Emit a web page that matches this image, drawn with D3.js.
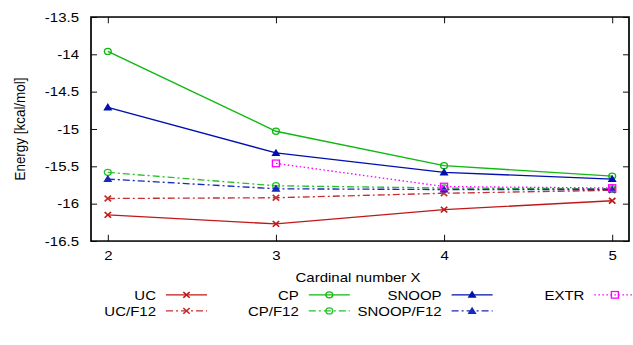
<!DOCTYPE html>
<html>
  <head>
    <meta charset="utf-8">
    <script src="https://d3js.org/d3.v7.min.js"></script>
    <title>Energy vs cardinal number</title>
    <style>
      body { margin: 0; background: #fff; overflow: hidden; }
      svg { display: block; }
      text { font-family: "Liberation Sans", Arial, sans-serif; font-size: 15px; fill: #000; }
    </style>
  </head>
  <body>
    <!-- drawn on a 633x385 canvas and squeezed to 345 px high, like the reference -->
    <svg width="633" height="345" viewBox="0 0 633 385" preserveAspectRatio="none" id="chart"></svg>
    <script>
      // cardinal numbers on the x axis
      var cardinal = [2, 3, 4, 5];
      var yTicks = [-13.5, -14, -14.5, -15, -15.5, -16, -16.5];

      // energies in kcal/mol
      var uc       = [-16.15, -16.27, -16.08, -15.96];
      var ucF12    = [-15.93, -15.92, -15.86, -15.82];
      var cp       = [-13.96, -15.03, -15.49, -15.63];
      var cpF12    = [-15.58, -15.76, -15.79, -15.80];
      var snoop    = [-14.71, -15.32, -15.58, -15.67];
      var snoopF12 = [-15.67, -15.80, -15.81, -15.81];
      var extrX    = [3, 4, 5];
      var extr     = [-15.46, -15.77, -15.79];

      var series = [
        { name: "UC", xs: cardinal, ys: uc, color: "#c01818", dash: null, mark: "x", col: 0, row: 0 },
        { name: "UC/F12", xs: cardinal, ys: ucF12, color: "#c83030", dash: "7,3,2,3", mark: "x", col: 0, row: 1 },
        { name: "CP", xs: cardinal, ys: cp, color: "#10b810", dash: null, mark: "circle", col: 1, row: 0 },
        { name: "CP/F12", xs: cardinal, ys: cpF12, color: "#28c028", dash: "7,3,2,3", mark: "circle", col: 1, row: 1 },
        { name: "SNOOP", xs: cardinal, ys: snoop, color: "#0010b0", dash: null, mark: "tri", col: 2, row: 0 },
        { name: "SNOOP/F12", xs: cardinal, ys: snoopF12, color: "#1828b8", dash: "7,3,2,3", mark: "tri", col: 2, row: 1 },
        { name: "EXTR", xs: extrX, ys: extr, color: "#ff00ff", dash: "1.5,2.5", mark: "square", col: 3, row: 0 }
      ];

      var svg = d3.select("#chart"),
          margin = { top: 19, right: 4, bottom: 116, left: 91 },
          width = 633 - margin.left - margin.right,
          height = 385 - margin.top - margin.bottom;

      var x = d3.scaleLinear().domain([1.9, 5.1]).range([0, width]),
          y = d3.scaleLinear().domain([-16.5, -13.5]).range([height, 0]);

      var g = svg.append("g")
          .attr("transform", "translate(" + margin.left + "," + margin.top + ")");

      // axes with inward ticks, mirrored on top and right
      g.append("g")
          .attr("transform", "translate(0," + height + ")")
          .call(d3.axisBottom(x).tickValues(cardinal).tickSize(-7).tickPadding(11).tickFormat(d3.format("d")));
      g.append("g")
          .call(d3.axisTop(x).tickValues(cardinal).tickSize(-7).tickFormat(""));
      g.append("g")
          .call(d3.axisLeft(y).tickValues(yTicks).tickSize(-6).tickPadding(12).tickFormat(function (d) { return d; }));
      g.append("g")
          .attr("transform", "translate(" + width + ",0)")
          .call(d3.axisRight(y).tickValues(yTicks).tickSize(-6).tickFormat(""));
      g.selectAll(".domain").remove();
      g.selectAll(".tick line").attr("stroke", "#000").attr("stroke-width", 1);
      g.selectAll(".tick text").style("font-size", "15px").style("font-family", "Liberation Sans, Arial, sans-serif");

      g.append("rect")
          .attr("width", width).attr("height", height)
          .attr("fill", "none").attr("stroke", "#000").attr("stroke-width", 1.7);

      svg.append("text")
          .attr("transform", "translate(20," + (margin.top + height / 2) + ") rotate(-90)")
          .attr("text-anchor", "middle")
          .attr("dy", "0.35em")
          .text("Energy [kcal/mol]");

      svg.append("text")
          .attr("x", margin.left + width / 2 - 2)
          .attr("y", 309)
          .attr("text-anchor", "middle")
          .attr("dy", "0.35em")
          .text("Cardinal number X");

      function drawMark(sel, kind, color) {
        if (kind === "x") {
          sel.append("path").attr("d", "M-3.2,-3.2L3.2,3.2M-3.2,3.2L3.2,-3.2")
            .attr("stroke", color).attr("stroke-width", 1.7).attr("fill", "none");
        } else if (kind === "circle") {
          sel.append("circle").attr("r", 3.4)
            .attr("stroke", color).attr("stroke-width", 1.4).attr("fill", "none");
        } else if (kind === "tri") {
          sel.append("path").attr("d", "M0,-4.8L4.5,3.4L-4.5,3.4Z").attr("fill", color);
        } else if (kind === "square") {
          sel.append("rect").attr("x", -3.5).attr("y", -3.7).attr("width", 7).attr("height", 7.4)
            .attr("stroke", color).attr("stroke-width", 1.4).attr("fill", "none");
        }
      }

      var line = d3.line()
          .x(function (d) { return x(d[0]); })
          .y(function (d) { return y(d[1]); });

      series.forEach(function (s) {
        var pts = s.xs.map(function (v, i) { return [v, s.ys[i]]; });
        g.append("path")
            .datum(pts)
            .attr("d", line)
            .attr("fill", "none")
            .attr("stroke", s.color)
            .attr("stroke-width", 1.5)
            .attr("stroke-dasharray", s.dash);
        pts.forEach(function (p) {
          var m = g.append("g").attr("transform", "translate(" + x(p[0]) + "," + y(p[1]) + ")");
          drawMark(m, s.mark, s.color);
        });
      });

      // legend in four columns below the plot
      var legend = svg.append("g");
      series.forEach(function (s) {
        var tx = 156 + s.col * 142.8,
            ty = 329 + s.row * 18;
        legend.append("text")
            .attr("x", tx).attr("y", ty)
            .attr("text-anchor", "end")
            .attr("dy", "0.35em")
            .text(s.name);
        legend.append("line")
            .attr("x1", tx + 10).attr("x2", tx + 51)
            .attr("y1", ty).attr("y2", ty)
            .attr("stroke", s.color).attr("stroke-width", 1.5)
            .attr("stroke-dasharray", s.dash);
        drawMark(legend.append("g").attr("transform", "translate(" + (tx + 30.5) + "," + ty + ")"), s.mark, s.color);
      });
    </script>
  </body>
</html>
